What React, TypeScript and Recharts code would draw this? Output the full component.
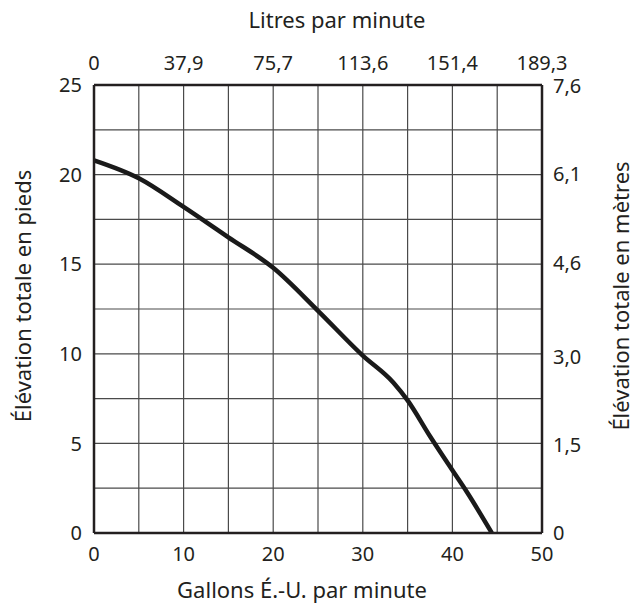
import React from "react";
import {
  LineChart,
  Line,
  XAxis,
  YAxis,
  CartesianGrid,
  Label,
} from "recharts";

// débit en gallons US par minute et hauteur en pieds
const gallons = [0, 5, 10, 15, 20, 25, 30, 33.4, 35, 37.5, 40, 41.6, 44.4];
const feet = [20.8, 19.8, 18.2, 16.5, 14.8, 12.4, 9.9, 8.4, 7.4, 5.4, 3.5, 2.3, 0];

const gallonTicks = [0, 5, 10, 15, 20, 25, 30, 35, 40, 45, 50];
const feetTicks = [0, 2.5, 5, 7.5, 10, 12.5, 15, 17.5, 20, 22.5, 25];
// graduations du haut, aux mêmes positions que 0, 10, ... 50 gal/min
const litreAt = [0, 10, 20, 30, 40, 50];
const litreLabels = ["0", "37,9", "75,7", "113,6", "151,4", "189,3"];
const metreTicks = [0, 1.5, 3.0, 4.6, 6.1, 7.6];

const data = gallons.map((g, i) => ({ gpm: g, head: feet[i] }));

const INK = "#231f20";
const FONT = "'Noto Sans', sans-serif";
const tickStyle = { fill: INK, fontSize: 20, fontFamily: FONT };
const frame = { stroke: INK, strokeWidth: 2.5 };

const comma = (v: number) => (v === 0 ? "0" : v.toFixed(1).replace(".", ","));

function title(x: number, y: number, angle = 0) {
  return (props: any) => (
    <text
      x={x}
      y={y}
      transform={angle ? `rotate(${angle} ${x} ${y})` : undefined}
      textAnchor="middle"
      dominantBaseline="central"
      fill={INK}
      fontSize={22}
      fontFamily={FONT}
    >
      {props.value}
    </text>
  );
}

export default function App() {
  return (
    <div style={{ position: "absolute", left: 0, top: 0, background: "#fff" }}>
      <LineChart
        width={639}
        height={603}
        data={data}
        margin={{ top: 0, right: 0, bottom: 0, left: 0 }}
      >
        <CartesianGrid
          xAxisId="gal"
          yAxisId="ft"
          stroke="#4a4a4a"
          strokeWidth={1.2}
        />
        <XAxis
          xAxisId="gal"
          dataKey="gpm"
          type="number"
          domain={[0, 50]}
          ticks={gallonTicks}
          interval={0}
          height={70}
          tickLine={false}
          tickMargin={8}
          axisLine={frame}
          tick={tickStyle}
          tickFormatter={(v: number) => (v % 10 === 0 ? String(v) : "")}
        >
          <Label value="Gallons É.-U. par minute" content={title(302, 589)} />
        </XAxis>
        <XAxis
          xAxisId="lpm"
          dataKey="gpm"
          orientation="top"
          type="number"
          domain={[0, 50]}
          allowDataOverflow
          ticks={litreAt}
          interval={0}
          height={85}
          tickLine={false}
          tickMargin={9}
          axisLine={frame}
          tick={tickStyle}
          tickFormatter={(v: number) => litreLabels[litreAt.indexOf(v)]}
        >
          <Label value="Litres par minute" content={title(337, 19)} />
        </XAxis>
        <YAxis
          yAxisId="ft"
          type="number"
          domain={[0, 25]}
          ticks={feetTicks}
          interval={0}
          width={94}
          tickLine={false}
          tickMargin={6}
          axisLine={frame}
          tick={tickStyle}
          tickFormatter={(v: number) => (v % 5 === 0 ? String(v) : "")}
        >
          <Label value="Élévation totale en pieds" content={title(22, 296, -90)} />
        </YAxis>
        <YAxis
          yAxisId="m"
          orientation="right"
          type="number"
          domain={[0, 7.62]}
          allowDataOverflow
          ticks={metreTicks}
          interval={0}
          width={97}
          tickLine={false}
          tickMargin={5}
          axisLine={frame}
          tick={tickStyle}
          tickFormatter={comma}
        >
          <Label value="Élévation totale en mètres" content={title(620, 296, -90)} />
        </YAxis>
        <Line
          xAxisId="gal"
          yAxisId="ft"
          dataKey="head"
          type="monotone"
          stroke="#1a1a1a"
          strokeWidth={4.5}
          dot={false}
          isAnimationActive={false}
        />
      </LineChart>
    </div>
  );
}
